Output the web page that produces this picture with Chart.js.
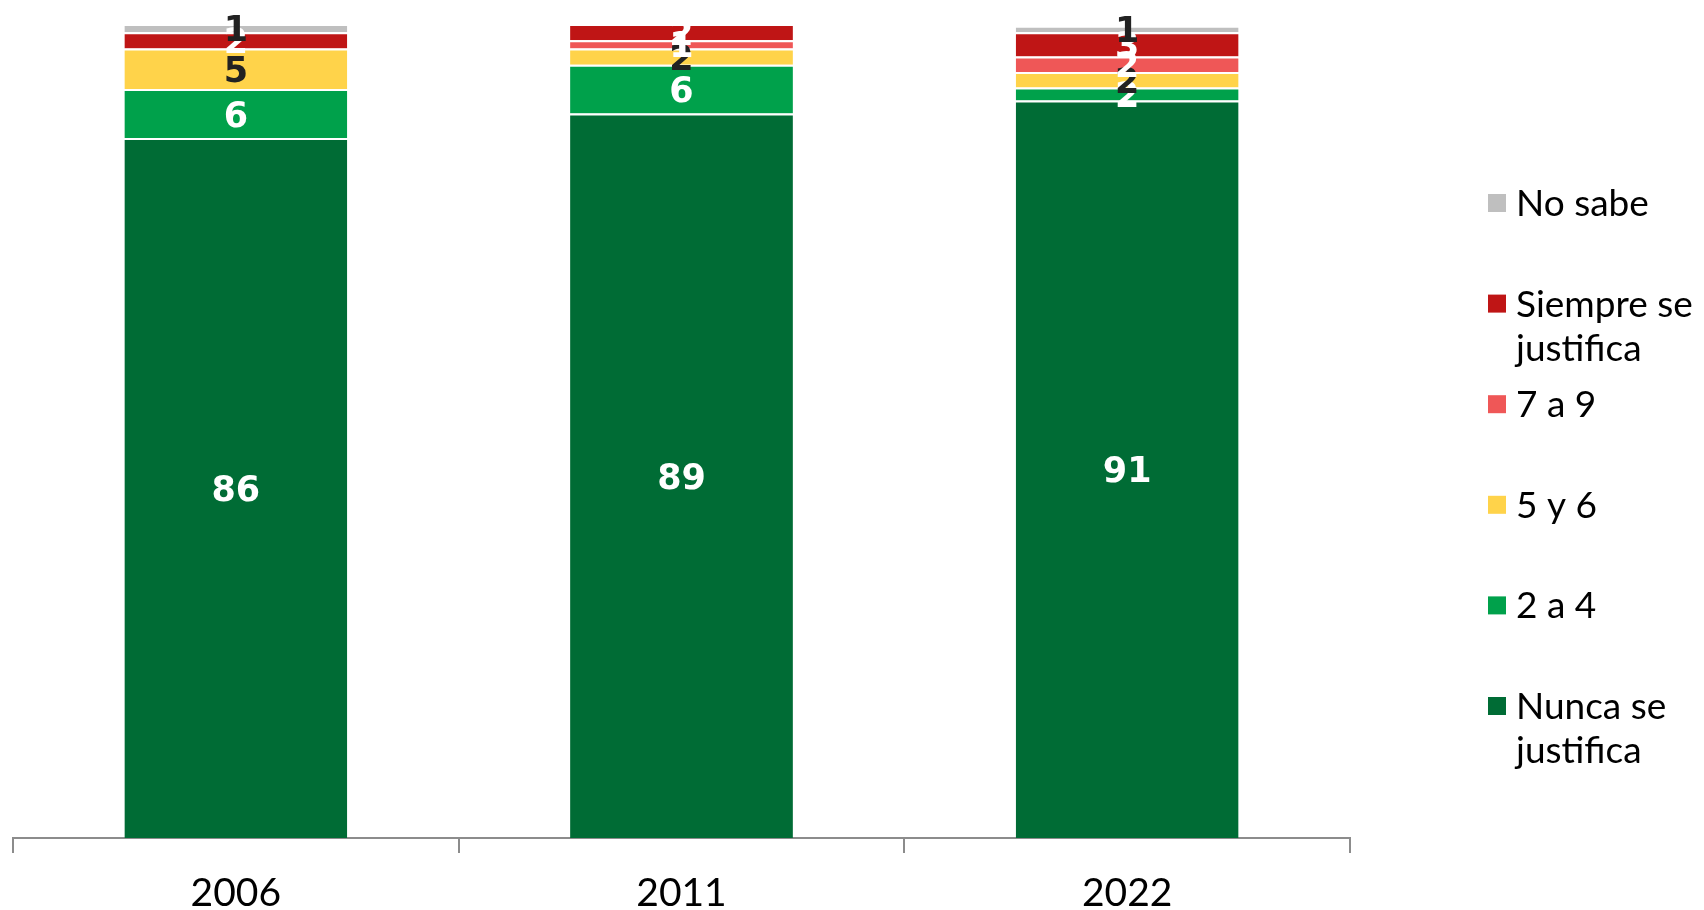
<!DOCTYPE html>
<html>
<head>
<meta charset="utf-8">
<script src="https://cdn.jsdelivr.net/npm/chart.js@4/dist/chart.umd.min.js"></script>
<style>
  body { margin: 0; background: #fff; }
  canvas { display: block; }
</style>
</head>
<body>
<canvas id="grafico" width="1704" height="910"></canvas>
<script>
// categorias (años)
const years = ['2006', '2011', '2022'];

// series, de abajo hacia arriba en la barra
const nunca   = [86, 89, 90.6];
const dosA4   = [6, 6, 1.6];
const cincoY6 = [5, 2, 1.9];
const sieteA9 = [0, 1, 1.9];
const siempre = [2, 2, 3.0];
const noSabe  = [1, 0, 0.8];

const seriesNames  = ['Nunca se justifica', '2 a 4', '5 y 6', '7 a 9', 'Siempre se justifica', 'No sabe'];
const seriesColors = ['#006C35', '#00A14B', '#FFD34A', '#EF5757', '#BF1515', '#BFBFBF'];
const labelColors  = ['#ffffff', '#ffffff', '#222222', '#ffffff', '#ffffff', '#222222'];

const seriesData = [nunca, dosA4, cincoY6, sieteA9, siempre, noSabe];

const datasets = seriesData.map(function(d, i){
	return {
		label: seriesNames[i],
		data: d,
		backgroundColor: seriesColors[i],
		borderColor: '#ffffff',
		borderWidth: {top: 2, left: 0, right: 0, bottom: 0},
		borderSkipped: false,
		categoryPercentage: 0.5,
		barPercentage: 1
	};
});

// etiquetas de valor dentro de cada segmento
const valueLabels = {
	id: 'valueLabels',
	afterDatasetsDraw(chart){
		const ctx = chart.ctx;
		ctx.save();
		ctx.font = 'bold 35px "DejaVu Sans"';
		ctx.textAlign = 'center';
		ctx.textBaseline = 'middle';
		chart.data.datasets.forEach(function(ds, i){
			const meta = chart.getDatasetMeta(i);
			meta.data.forEach(function(bar, j){
				const v = ds.data[j];
				if (v < 0.5) return;
				ctx.fillStyle = labelColors[i];
				ctx.fillText(String(Math.round(v)), bar.x, (bar.y + bar.base) / 2 + 4);
			});
		});
		ctx.restore();
	}
};

// leyenda a la derecha (de arriba hacia abajo: No sabe ... Nunca)
const sideLegend = {
	id: 'sideLegend',
	afterDraw(chart){
		const ctx = chart.ctx;
		ctx.save();
		ctx.font = '37px Lato';
		ctx.textBaseline = 'middle';
		let y = 204;
		for (let i = seriesNames.length - 1; i >= 0; i--){
			// partir en dos lineas si no cabe
			const words = seriesNames[i].split(' ');
			const lines = [];
			let cur = '';
			words.forEach(function(w){
				const t = cur ? cur + ' ' + w : w;
				if (ctx.measureText(t).width > 185 && cur){
					lines.push(cur);
					cur = w;
				} else {
					cur = t;
				}
			});
			lines.push(cur);
			ctx.fillStyle = seriesColors[i];
			ctx.fillRect(1488, y - 10, 18, 18);
			ctx.fillStyle = '#000';
			lines.forEach(function(l, k){
				ctx.fillText(l, 1516, y + k * 44);
			});
			y += 100.6;
		}
		ctx.restore();
	}
};

new Chart(document.getElementById('grafico'), {
	type: 'bar',
	data: {
		labels: years,
		datasets: datasets
	},
	options: {
		responsive: false,
		animation: false,
		layout: {
			padding: {left: 13, right: 354, top: 24, bottom: 0}
		},
		plugins: {
			legend: {display: false},
			tooltip: {enabled: false}
		},
		scales: {
			x: {
				stacked: true,
				afterFit: function(scale){ scale.height = 72; },
				grid: {
					display: true,
					offset: true,
					drawOnChartArea: false,
					color: '#8c8c8c',
					lineWidth: 2,
					tickLength: 15
				},
				border: {color: '#8c8c8c', width: 2},
				ticks: {
					color: '#000',
					padding: 21,
					font: {family: 'Lato', size: 39, lineHeight: 1.0}
				}
			},
			y: {
				stacked: true,
				display: false,
				min: 0,
				max: 100
			}
		}
	},
	plugins: [valueLabels, sideLegend]
});
</script>
</body>
</html>
